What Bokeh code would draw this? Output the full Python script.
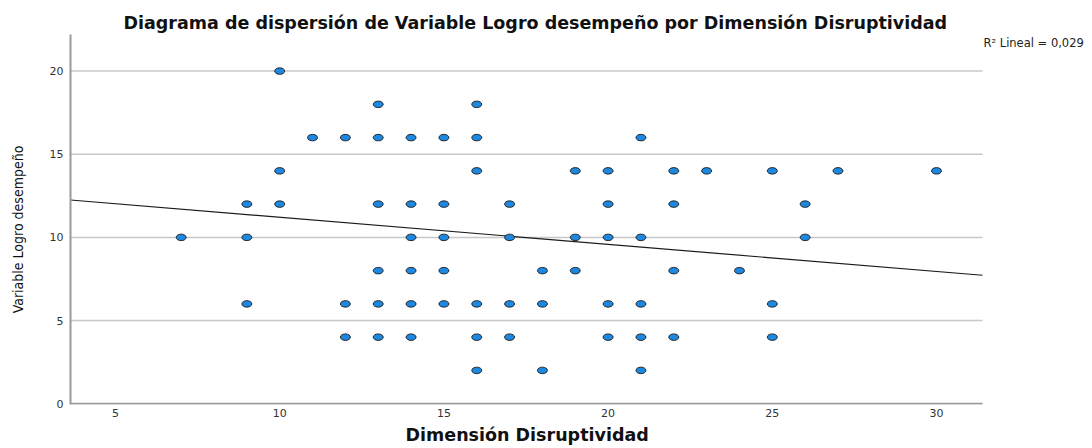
from bokeh.plotting import figure
from bokeh.models import Range1d, FixedTicker, ColumnDataSource, Label, Title
from bokeh.embed import file_html
from bokeh.resources import INLINE

# ---- data ----
disruptividad = [
    10,
    13, 16,
    11, 12, 13, 14, 15, 16, 21,
    10, 16, 19, 20, 22, 23, 25, 27, 30,
    9, 10, 13, 14, 15, 17, 20, 22, 26,
    7, 9, 14, 15, 17, 19, 20, 21, 26,
    13, 14, 15, 18, 19, 22, 24,
    9, 12, 13, 14, 15, 16, 17, 18, 20, 21, 25,
    12, 13, 14, 16, 17, 20, 21, 22, 25,
    16, 18, 21,
]
logro = (
    [20] * 1
    + [18] * 2
    + [16] * 7
    + [14] * 9
    + [12] * 9
    + [10] * 9
    + [8] * 7
    + [6] * 11
    + [4] * 9
    + [2] * 3
)
x_ticks = [5, 10, 15, 20, 25, 30]
y_ticks = [0, 5, 10, 15, 20]
fit_intercept = 12.84
fit_slope = -0.163
r2_text = "R\u00b2 Lineal = 0,029"

title_text = "Diagrama de dispersi\u00f3n de Variable Logro desempe\u00f1o  por Dimensi\u00f3n Disruptividad"
x_title = "Dimensi\u00f3n Disruptividad"
y_title = "Variable Logro desempe\u00f1o"

# axis extents of the drawn chart area
x_lo, x_end = 3.63, 31.4
y_lo, y_hi = 0, 22.2
# the frame is widened to the right so the R² note can sit inside it
x_view_hi = 34.75
y_view_lo = -0.05

p = figure(
    width=1092, height=448,
    output_backend="svg", toolbar_location=None,
    x_range=Range1d(x_lo, x_view_hi), y_range=Range1d(y_view_lo, y_hi),
    min_border_left=70, min_border_right=0, min_border_top=34, min_border_bottom=44,
)
p.title = Title(text=title_text, align="left", offset=53, standoff=4,
                text_font="DejaVu Sans", text_font_style="bold", text_font_size="17.5px",
                text_color="#111111")
p.outline_line_color = None
p.background_fill_color = "white"
p.border_fill_color = "white"

p.xgrid.visible = False
p.ygrid.visible = False

p.xaxis.ticker = FixedTicker(ticks=x_ticks)
p.yaxis.ticker = FixedTicker(ticks=y_ticks)
for ax in (p.xaxis, p.yaxis):
    ax.major_tick_line_color = None
    ax.minor_tick_line_color = None
    ax.major_tick_out = 0
    ax.major_tick_in = 0
    ax.minor_tick_out = 0
    ax.axis_line_color = "#9a9a9a"
    ax.axis_line_width = 2
    ax.major_label_text_font = "DejaVu Sans"
    ax.major_label_text_font_size = "11px"
    ax.major_label_text_color = "#333333"
p.xaxis.axis_line_color = None
p.xaxis.major_label_standoff = 4
p.yaxis.major_label_standoff = 7

p.add_layout(Title(text=x_title, align="left", offset=335, standoff=6,
                   text_font="DejaVu Sans", text_font_style="bold", text_font_size="17.5px",
                   text_color="#111111"), "below")

p.yaxis.axis_label = y_title + "\u00a0" * 5
p.yaxis.axis_label_text_font = "'DejaVu Sans Condensed', Roboto, sans-serif"
p.yaxis.axis_label_text_font_style = "normal"
p.yaxis.axis_label_text_font_size = "14px"
p.yaxis.axis_label_text_color = "#111111"
p.yaxis.axis_label_standoff = 21

# horizontal grid lines and bottom axis line, limited to the chart area
grid_y = [t for t in y_ticks if t > 0]
p.segment(x0=[x_lo] * len(grid_y), y0=grid_y, x1=[x_end] * len(grid_y), y1=grid_y,
          line_color="#c8c8c8", line_width=1.5)
p.segment(x0=[x_lo], y0=[y_lo], x1=[x_end], y1=[y_lo], line_color="#9a9a9a", line_width=2)

# regression line
p.line([x_lo, x_end], [fit_intercept + fit_slope * x_lo, fit_intercept + fit_slope * x_end],
       line_color="#1a1a1a", line_width=1.2)

src = ColumnDataSource(dict(x=disruptividad, y=logro))
p.ellipse(x="x", y="y", width=10, height=6.5, width_units="screen", height_units="screen",
          source=src, fill_color="#1e88e0", line_color="#1a1a1a", line_width=0.9)

p.add_layout(Label(x=x_end + 0.03, y=21.66, text=r2_text,
                   text_font="DejaVu Sans", text_font_size="11.5px",
                   text_align="left", text_baseline="middle", text_color="#222222"))

open("out.html", "w").write(file_html(p, INLINE))
